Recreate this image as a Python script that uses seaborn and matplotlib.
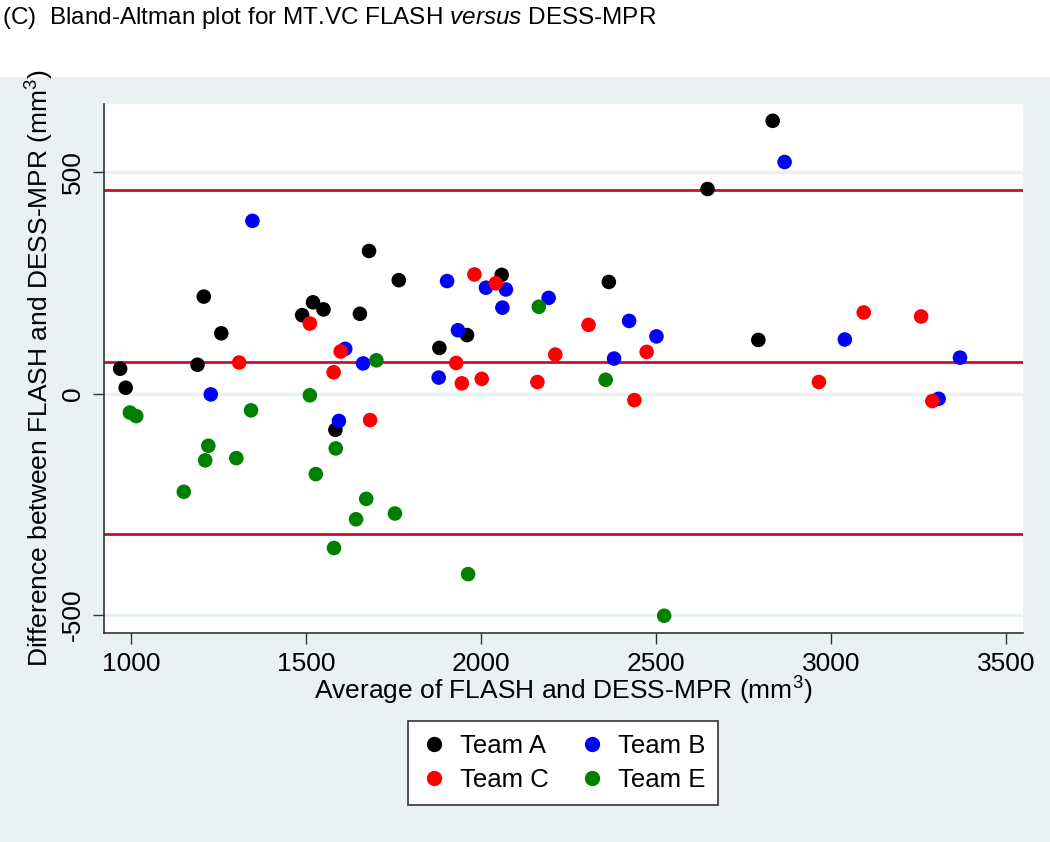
import matplotlib
matplotlib.use("Agg")
import matplotlib.pyplot as plt
from matplotlib.patches import Rectangle
from matplotlib.lines import Line2D
import seaborn as sns
import pandas as pd

# Data
team_a_avg = [969, 985, 1190, 1208, 1258, 1489, 1520, 1550, 1654, 1680, 1765, 1584, 1881, 1960, 2059, 2365, 2647, 2792, 2833]
team_a_diff = [56, 13, 65, 219, 136, 177, 206, 190, 180, 322, 256, -82, 103, 132, 268, 252, 462, 121, 616]
team_b_avg = [1347, 1228, 1612, 1663, 1594, 1879, 1903, 1934, 2014, 2061, 2071, 2193, 2380, 2423, 2501, 2867, 3039, 3307, 3368]
team_b_diff = [390, -2, 101, 68, -62, 36, 254, 143, 239, 194, 235, 216, 79, 164, 129, 523, 122, -12, 81]
team_c_avg = [1309, 1511, 1579, 1599, 1683, 1929, 1945, 1981, 2002, 2042, 2161, 2212, 2307, 2438, 2473, 2965, 3093, 3257, 3289]
team_c_diff = [70, 158, 48, 95, -60, 69, 23, 269, 33, 249, 26, 88, 155, -15, 94, 26, 183, 174, -17]
team_e_avg = [997, 1015, 1151, 1212, 1221, 1301, 1343, 1511, 1528, 1580, 1585, 1643, 1672, 1701, 1754, 1963, 2165, 2356, 2523]
team_e_diff = [-43, -51, -222, -151, -118, -146, -38, -4, -182, -349, -124, -284, -238, 75, -271, -408, 196, 31, -502]

teams = ['Team A', 'Team B', 'Team C', 'Team E']
team_colors = ['black', '#0000FF', '#FF0000', '#008000']
mean_diff = 72
limits = [459, -317]
x_ticks = [1000, 1500, 2000, 2500, 3000, 3500]
y_ticks = [-500, 0, 500]

df = pd.DataFrame({
    'avg': team_a_avg + team_b_avg + team_c_avg + team_e_avg,
    'diff': team_a_diff + team_b_diff + team_c_diff + team_e_diff,
    'team': (['Team A'] * len(team_a_avg) + ['Team B'] * len(team_b_avg)
             + ['Team C'] * len(team_c_avg) + ['Team E'] * len(team_e_avg)),
})

bg = '#EAF1F3'
plt.rcParams['font.family'] = 'Liberation Sans'
plt.rcParams['mathtext.fontset'] = 'custom'
plt.rcParams['mathtext.rm'] = 'Liberation Sans'
plt.rcParams['mathtext.it'] = 'Liberation Sans:italic'
plt.rcParams['mathtext.default'] = 'regular'
plt.rcParams['axes.unicode_minus'] = False

fig = plt.figure(figsize=(10.5, 8.42), dpi=100)
fig.patch.set_facecolor('white')
fig.patches.append(Rectangle((0, 0), 1, 1 - 77 / 842, transform=fig.transFigure,
                             facecolor=bg, edgecolor='none', zorder=-10))

ax = fig.add_axes([104 / 1050, 1 - 633 / 842, (1023 - 104) / 1050, (633 - 104) / 842])
ax.set_facecolor('white')

palette = dict(zip(teams, team_colors))
sns.scatterplot(data=df, x='avg', y='diff', hue='team', palette=palette,
                s=110, linewidth=0, ax=ax, legend=False, zorder=3)

ax.axhline(mean_diff, color='#C8102E', lw=2, zorder=2)
for lim in limits:
    ax.axhline(lim, color='#C8102E', lw=2, zorder=2)

ax.set_xlim(923, 3548)
ax.set_ylim(-541, 654)
ax.set_xticks(x_ticks)
ax.set_yticks(y_ticks)
ax.yaxis.grid(True, color=bg, lw=2.5, zorder=0)
ax.set_axisbelow(True)
for side in ['top', 'right']:
    ax.spines[side].set_visible(False)
for side in ['left', 'bottom']:
    ax.spines[side].set_color('#333333')
    ax.spines[side].set_linewidth(1.2)

ax.tick_params(axis='both', direction='out', length=8, width=1, color='#333333',
               labelsize=19, pad=6)
ax.tick_params(axis='y', labelrotation=90)
for lab in ax.get_yticklabels():
    lab.set_va('center')

ax.set_xlabel('Average of FLASH and DESS-MPR (mm$^3$)', fontsize=19, labelpad=-1)
ax.set_ylabel('Difference between FLASH and DESS-MPR (mm$^3$)', fontsize=19, labelpad=3)

fig.text(0.002, 1 - 18 / 842, '(C)  Bland-Altman plot for MT.VC FLASH $\\mathit{versus}$ DESS-MPR',
         fontsize=17.5, ha='left', va='center')

# legend filled row-wise like the reference: A B / C E
order = [0, 2, 1, 3]
handles = [Line2D([], [], marker='o', ls='', color=team_colors[i], markersize=10) for i in order]
labels = [teams[i] for i in order]
leg = fig.legend(handles, labels, loc='center', bbox_to_anchor=(563 / 1050, 1 - 763 / 842),
                 ncol=2, fontsize=18.5, frameon=True, fancybox=False, framealpha=1,
                 facecolor='white', handletextpad=0.5, columnspacing=1.2, borderpad=0.5,
                 labelspacing=0.4, handlelength=1.0)
leg.get_frame().set_edgecolor('#333333')
leg.get_frame().set_linewidth(1.2)

fig.savefig('out.png', dpi=100, facecolor=fig.get_facecolor())
